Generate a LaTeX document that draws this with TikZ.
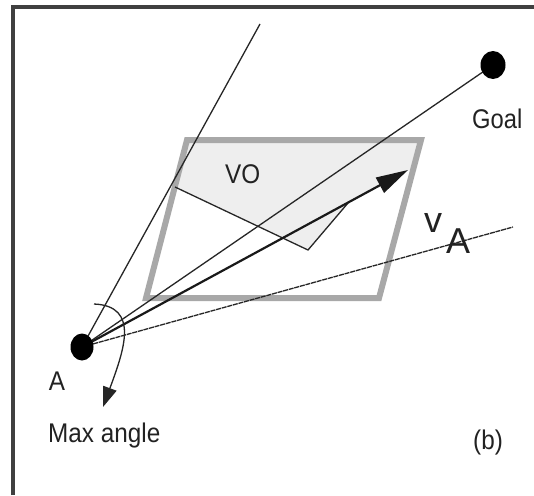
\documentclass[tikz,border=0pt]{standalone}
\usepackage{fontspec}
\setmainfont{Liberation Sans}
\usetikzlibrary{arrows.meta,shapes.geometric}
\definecolor{vofill}{HTML}{EEEEEE}
\definecolor{pgray}{HTML}{A8A8A8}
\definecolor{ink}{HTML}{222222}
\begin{document}
\begin{tikzpicture}[x=1pt,y=-1pt,
  thinline/.style={line width=1.3pt, draw=black!85},
  lbl/.style={inner sep=0pt, text=ink, font=\fontsize{27}{30}\selectfont},
  biglbl/.style={inner sep=0pt, text=ink, font=\fontsize{36}{40}\selectfont},
  dot/.style={ellipse, fill=black, inner sep=0pt, minimum width=23pt, minimum height=27pt}]
\useasboundingbox (0,0) rectangle (534,495);
\fill[white] (0,0) rectangle (534,495);
% frame
\draw[line width=3.5pt, draw=black!75] (13,495) -- (13,7) -- (534,7);
% key points
\coordinate (Apos) at (82,347);
\coordinate (Gpos) at (493,65);
\coordinate (top) at (260,24);
\coordinate (far) at (513,227);
\coordinate (tip) at (408,170);
\coordinate (P1) at (187,140);
\coordinate (P2) at (421,140);
\coordinate (P3) at (379,298);
\coordinate (P4) at (146,298);
\coordinate (V1) at (175,187);
\coordinate (V2) at (308,250);
\coordinate (V3) at (348,203);
\coordinate (V4) at (413,168);
\coordinate (M0) at (94,304);
\coordinate (M1) at (103,407);
% VO region
\fill[vofill] (P1) -- (P2) -- (V4) -- (V3) -- (V2) -- (V1) -- cycle;
\draw[line width=6pt, draw=pgray, line join=miter] (P1) -- (P2) -- (P3) -- (P4) -- cycle;
% rays
\draw[thinline] (Apos) -- (top);
\draw[thinline] (Apos) -- (Gpos);
\draw[thinline, dash pattern=on 5pt off 0.8pt] (Apos) -- (far);
\draw[thinline] (V1) -- (V2) -- (V3);
% velocity arrow
\draw[line width=2.2pt, draw=black!90, -{Triangle[length=32pt,width=17pt]}] (Apos) -- (tip);
% max angle
\draw[thinline, -{Triangle[length=20pt,width=14pt]}] (M0) .. controls (140,306) and (124,350) .. (M1);
% dots
\node[dot] (A) at (Apos) {};
\node[dot, minimum width=25pt, minimum height=28pt] (G) at (Gpos) {};
% labels
\node[lbl] (lA) at (57,381) {\scalebox{0.9}[1]{A}};
\node[lbl, anchor=base west] (lmax) at (48,442) {\scalebox{0.9}[1]{Max angle}};
\node[lbl, anchor=base west] (lgoal) at (472,128) {\scalebox{0.88}[1]{Goal}};
\node[lbl, anchor=base west] (lvo) at (225,183) {\scalebox{0.9}[1]{VO}};
\node[lbl, anchor=base west] (lb) at (473,449) {\scalebox{0.9}[1]{(b)}};
\node[biglbl, anchor=base west] (lv) at (424,232) {v};
\node[biglbl, anchor=base west] (lsub) at (446,253) {A};
\end{tikzpicture}
\end{document}
